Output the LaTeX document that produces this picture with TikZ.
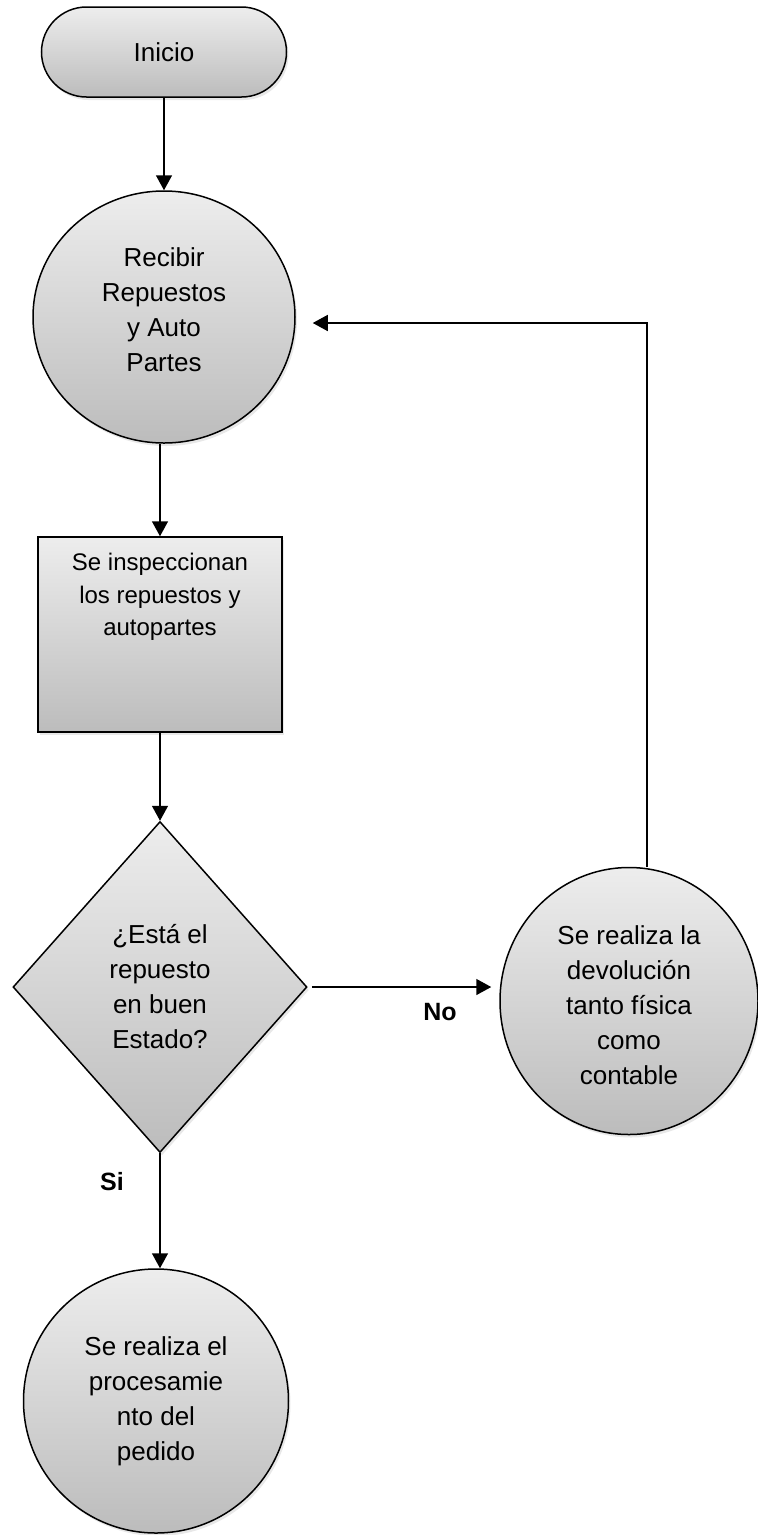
\documentclass[tikz,border=0pt]{standalone}
\usepackage{fontspec}
\setmainfont{Liberation Sans}
\usetikzlibrary{shapes.geometric,arrows.meta,shadows}
\definecolor{gtop}{RGB}{237,237,237}
\definecolor{gbot}{RGB}{188,188,188}
\tikzset{
  flowshape/.style={draw=black, line width=1.5pt, top color=gtop, bottom color=gbot,
    drop shadow={opacity=0.18, shadow xshift=2pt, shadow yshift=-3pt}},
  txtbig/.style={font=\fontsize{26}{35}\selectfont, align=center},
  txtmid/.style={font=\fontsize{24}{32.5}\selectfont, align=center},
  lbl/.style={font=\fontsize{25}{30}\selectfont\bfseries},
  arr/.style={line width=1.5pt, -{Triangle[length=15pt,width=16pt]}},
}
\begin{document}
\begin{tikzpicture}[x=1pt,y=-1pt]
\useasboundingbox (0,0) rectangle (758,1535);
% nodes
\node[flowshape, rounded corners=45pt, minimum width=245pt, minimum height=90pt, txtbig] (ini) at (164,52) {Inicio};
\node[flowshape, ellipse, minimum width=262pt, minimum height=252pt, inner sep=0pt, txtbig, text depth=14pt] (rec) at (164,317) {Recibir\\Repuestos\\y Auto\\Partes};
\node[flowshape, rectangle, minimum width=244pt, minimum height=195pt, inner sep=0pt] (insp) at (160,634.5) {};
\node[txtmid, anchor=north, inner sep=0pt] (insptxt) at ([yshift=-17pt]insp.north) {Se inspeccionan\\los repuestos y\\autopartes};
\node[flowshape, diamond, minimum width=294pt, minimum height=331pt, inner sep=0pt, txtbig] (dia) at (160,987) {¿Está el\\repuesto\\en buen\\Estado?};
\node[flowshape, ellipse, minimum width=258pt, minimum height=267pt, inner sep=0pt, txtbig, text height=167pt] (dev) at (629,1001) {Se realiza la\\devolución\\tanto física\\como\\contable};
\node[flowshape, ellipse, minimum width=265pt, minimum height=264pt, inner sep=0pt, txtbig] (pro) at (156,1401) {Se realiza el\\procesamie\\nto del\\pedido};
% labels
\node[lbl] (no) at (440,1012) {No};
\node[lbl] (si) at (112,1182) {Si};
% connectors
\draw[arr] (ini) -- (rec);
\draw[arr] (rec.south -| insp) -- (insp);
\draw[arr] (insp) -- (dia);
\draw[arr] (dia.south) -- (dia.south |- pro.north);
\draw[arr, shorten <=4pt, shorten >=8pt] (dia.east) -- (dia.east -| dev.west);
\draw[arr, shorten >=17pt] ([xshift=18pt]dev.north) |- ([yshift=-6pt]rec.east);
\end{tikzpicture}
\end{document}
